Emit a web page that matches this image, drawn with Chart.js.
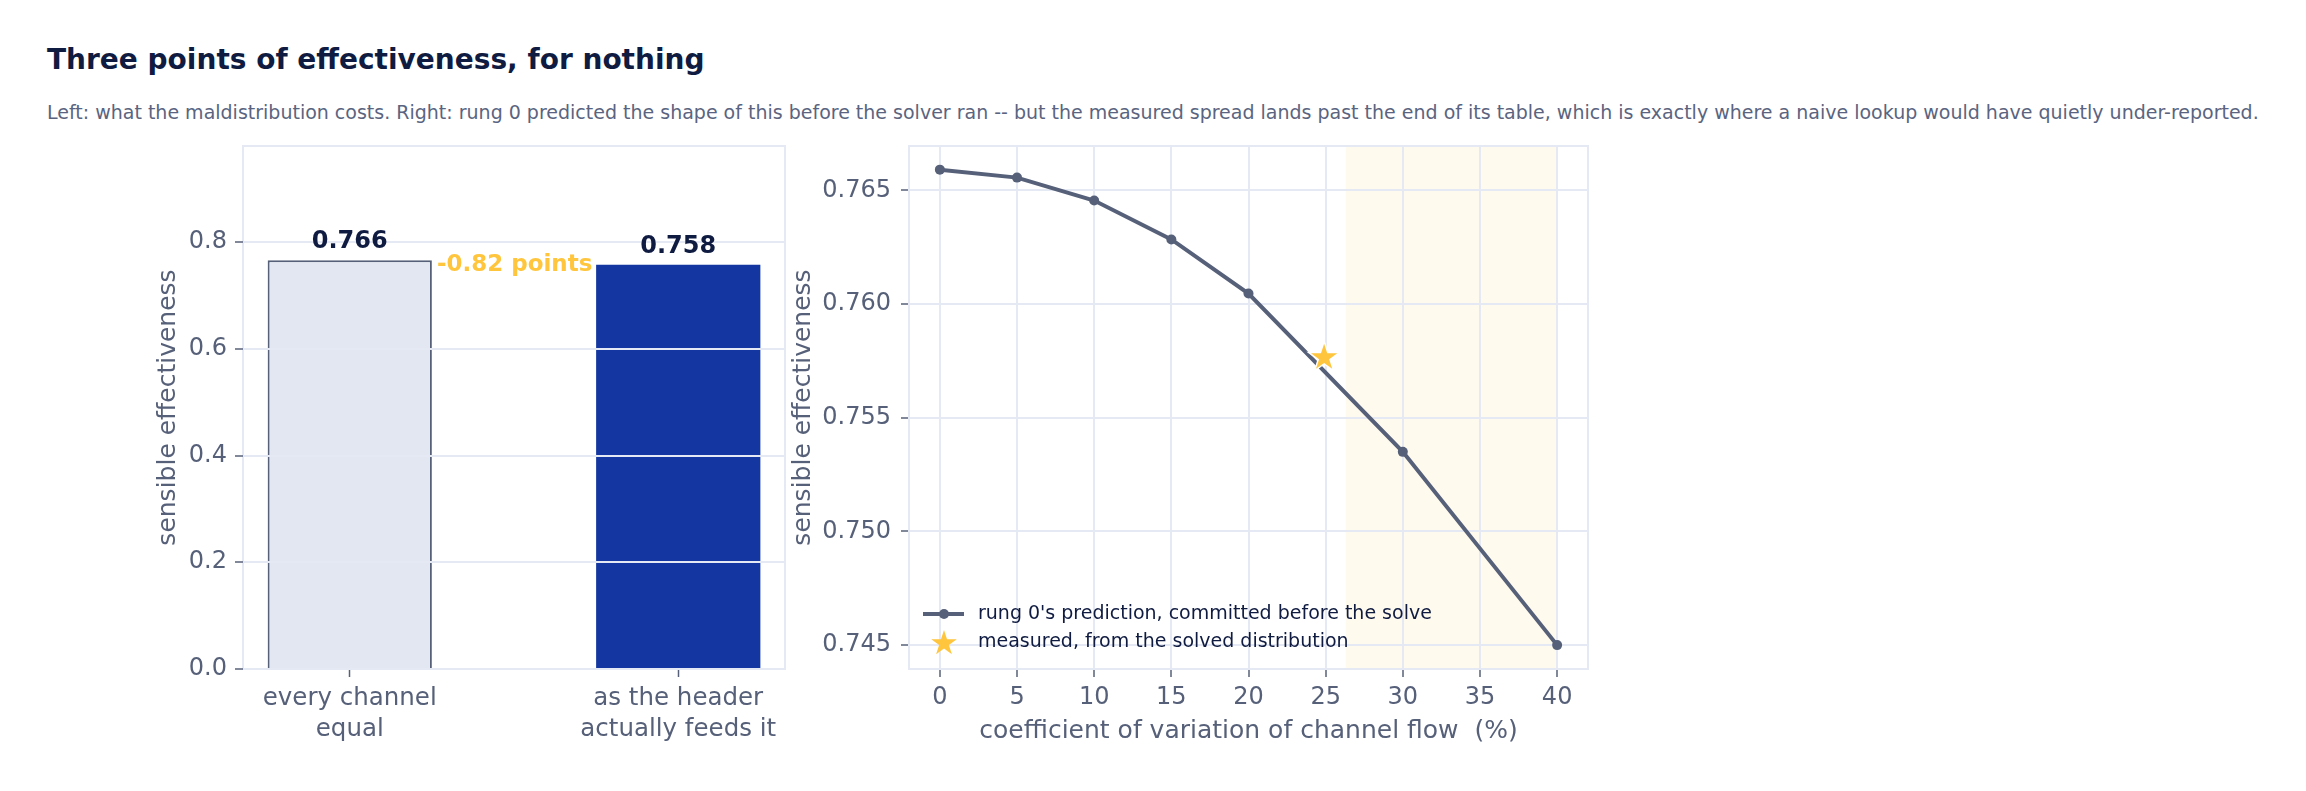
<!DOCTYPE html>
<html>
<head>
<meta charset="utf-8">
<script src="https://cdn.jsdelivr.net/npm/chart.js@4.4.1/dist/chart.umd.min.js"></script>
<style>
html,body{margin:0;padding:0;background:#ffffff;}
body{width:2306px;height:791px;position:relative;overflow:hidden;font-family:"DejaVu Sans",sans-serif;}
#title{position:absolute;left:47px;top:46px;font-size:28px;line-height:28px;font-weight:bold;color:#0f1b40;white-space:nowrap;}
#subtitle{position:absolute;left:47px;top:103px;font-size:19px;line-height:19px;color:#5a6480;white-space:nowrap;}
.cv{position:absolute;left:0;top:0;width:2306px;height:791px;}
</style>
</head>
<body>
<div id="title">Three points of effectiveness, for nothing</div>
<div id="subtitle">Left: what the maldistribution costs. Right: rung 0 predicted the shape of this before the solver ran -- but the measured spread lands past the end of its table, which is exactly where a naive lookup would have quietly under-reported.</div>
<div class="cv"><canvas id="left"></canvas></div>
<div class="cv"><canvas id="right"></canvas></div>
<script>
// ---------- data ----------
const barCategories = [['every channel', 'equal'], ['as the header', 'actually feeds it']];
const barValues = [0.7659, 0.7577];
const barYTicks = [0.0, 0.2, 0.4, 0.6, 0.8];

const cvPercent = [0, 5, 10, 15, 20, 30, 40];
const predictedEff = [0.76591, 0.76556, 0.76455, 0.76284, 0.76046, 0.75350, 0.74500];
const measuredCv = [24.9];
const measuredEff = [0.7577];
const lineXTicks = [0, 5, 10, 15, 20, 25, 30, 35, 40];
const lineYTicks = [0.745, 0.750, 0.755, 0.760, 0.765];
const tableEndBand = [26.3, 40];

const legendLabels = ["rung 0's prediction, committed before the solve", 'measured, from the solved distribution'];

// ---------- style ----------
const FONT = '"DejaVu Sans", sans-serif';
const C_TEXT = '#0f1b40';
const C_TICK = '#566079';
const C_GRID = '#e5e9f4';
const C_LINE = '#566079';
const C_GOLD = '#ffc53d';
const C_BAR0 = '#e3e7f2';
const C_BAR1 = '#1336a0';
const C_BAND = '#fffaee';

function drawStar(ctx, cx, cy, R, fill, stroke, lw) {
  const r = R * 0.381966;
  ctx.beginPath();
  for (let i = 0; i < 10; i++) {
    const rad = i % 2 === 0 ? R : r;
    const ang = -Math.PI / 2 + i * Math.PI / 5;
    const px = cx + rad * Math.cos(ang), py = cy + rad * Math.sin(ang);
    if (i === 0) ctx.moveTo(px, py); else ctx.lineTo(px, py);
  }
  ctx.closePath();
  if (stroke) { ctx.lineWidth = lw; ctx.strokeStyle = stroke; ctx.lineJoin = 'miter'; ctx.stroke(); }
  ctx.fillStyle = fill;
  ctx.fill();
}

const framePlugin = {
  id: 'frame',
  afterDatasetsDraw(chart) {
    const {ctx, chartArea: a} = chart;
    ctx.save();
    ctx.strokeStyle = C_GRID;
    ctx.lineWidth = 2;
    ctx.strokeRect(a.left, a.top, a.right - a.left, a.bottom - a.top);
    ctx.restore();
  }
};

Chart.defaults.font.family = FONT;
Chart.defaults.animation = false;
Chart.defaults.responsive = true;
Chart.defaults.maintainAspectRatio = false;
Chart.defaults.devicePixelRatio = 1;

// ---------- left: bars ----------
const barLabelPlugin = {
  id: 'barLabels',
  afterDraw(chart) {
    const {ctx} = chart;
    const meta = chart.getDatasetMeta(0);
    const ys = chart.scales.y;
    ctx.save();
    ctx.font = 'bold 24px ' + FONT;
    ctx.fillStyle = C_TEXT;
    ctx.textAlign = 'center';
    ctx.textBaseline = 'alphabetic';
    meta.data.forEach((el, i) => {
      ctx.fillText(barValues[i].toFixed(3), el.x, el.y - 12);
    });
    const diff = (barValues[1] - barValues[0]) * 100;
    const el0 = meta.data[0];
    ctx.font = 'bold 23px ' + FONT;
    ctx.fillStyle = C_GOLD;
    ctx.textAlign = 'left';
    ctx.textBaseline = 'middle';
    ctx.fillText(diff.toFixed(2) + ' points', el0.x + el0.width / 2 + 5, ys.getPixelForValue((barValues[0] + barValues[1]) / 2) + 3);
    ctx.restore();
  }
};

new Chart(document.getElementById('left'), {
  type: 'bar',
  data: {
    datasets: [{
      data: barValues.map((v, i) => ({x: i, y: v})),
      backgroundColor: [C_BAR0, C_BAR1],
      borderColor: [C_LINE, C_BAR1],
      borderWidth: [2, 0],
      borderSkipped: 'bottom',
      barPercentage: 0.5,
      categoryPercentage: 1.0
    }]
  },
  options: {
    layout: {padding: {left: 153, top: 146, right: 1521, bottom: 42}},
    plugins: {legend: {display: false}, tooltip: {enabled: false}},
    scales: {
      x: {
        type: 'linear', min: -0.325, max: 1.325, offset: false,
        afterBuildTicks: s => { s.ticks = barCategories.map((c, i) => ({value: i})); },
        afterFit: s => { s.height = 80; },
        grid: {offset: false, drawOnChartArea: false, drawTicks: true, tickLength: 8, tickColor: C_TICK, tickWidth: 1.5},
        border: {display: false},
        ticks: {
          callback: v => barCategories[v],
          color: C_TICK, font: {size: 24.5, lineHeight: 1.27}, padding: 6, maxRotation: 0, autoSkip: false
        }
      },
      y: {
        type: 'linear', min: 0, max: 0.98,
        afterBuildTicks: s => { s.ticks = barYTicks.map(v => ({value: v})); },
        afterFit: s => { s.width = 90; },
        grid: {color: C_GRID, lineWidth: 2, z: 1, tickLength: 8, tickColor: C_TICK, tickWidth: 1.5},
        border: {display: false},
        ticks: {callback: v => v.toFixed(1), color: C_TICK, font: {size: 24}, padding: 8},
        title: {display: true, text: 'sensible effectiveness', color: C_TICK, font: {size: 25, lineHeight: 1.2}, padding: {top: 0, bottom: 0}}
      }
    }
  },
  plugins: [framePlugin, barLabelPlugin]
});

// ---------- right: line ----------
const bandPlugin = {
  id: 'band',
  beforeDraw(chart) {
    const {ctx, chartArea: a, scales: {x}} = chart;
    ctx.save();
    ctx.fillStyle = C_BAND;
    const x0 = x.getPixelForValue(tableEndBand[0]), x1 = x.getPixelForValue(tableEndBand[1]);
    ctx.fillRect(x0, a.top, x1 - x0, a.bottom - a.top);
    ctx.restore();
  }
};

const starPlugin = {
  id: 'stars',
  afterDatasetsDraw(chart) {
    const {ctx} = chart;
    const meta = chart.getDatasetMeta(1);
    ctx.save();
    meta.data.forEach(el => drawStar(ctx, el.x, el.y + 1.3, 13.8, C_GOLD, '#ffffff', 3));
    ctx.restore();
  }
};

const legendPlugin = {
  id: 'insideLegend',
  afterDraw(chart) {
    const {ctx, chartArea: a} = chart;
    const y1 = a.bottom - 55, y2 = a.bottom - 27;
    const xs = a.left + 14, xe = a.left + 55, xm = a.left + 35;
    ctx.save();
    ctx.strokeStyle = C_LINE; ctx.lineWidth = 4;
    ctx.beginPath(); ctx.moveTo(xs, y1); ctx.lineTo(xe, y1); ctx.stroke();
    ctx.fillStyle = C_LINE;
    ctx.beginPath(); ctx.arc(xm, y1, 5, 0, Math.PI * 2); ctx.fill();
    drawStar(ctx, xm, y2 + 1.3, 13.4, C_GOLD, null, 0);
    ctx.font = '19px ' + FONT;
    ctx.fillStyle = C_TEXT;
    ctx.textAlign = 'left'; ctx.textBaseline = 'middle';
    ctx.fillText(legendLabels[0], a.left + 69, y1);
    ctx.fillText(legendLabels[1], a.left + 69, y2);
    ctx.restore();
  }
};

new Chart(document.getElementById('right'), {
  type: 'line',
  data: {
    datasets: [{
      label: legendLabels[0],
      data: cvPercent.map((c, i) => ({x: c, y: predictedEff[i]})),
      borderColor: C_LINE, backgroundColor: C_LINE, borderWidth: 4,
      pointRadius: 5, pointBackgroundColor: C_LINE, pointBorderWidth: 0,
      tension: 0
    }, {
      label: legendLabels[1],
      type: 'scatter',
      data: measuredCv.map((c, i) => ({x: c, y: measuredEff[i]})),
      pointRadius: 0, showLine: false
    }]
  },
  options: {
    layout: {padding: {left: 788, top: 146, right: 718, bottom: 45}},
    plugins: {legend: {display: false}, tooltip: {enabled: false}},
    scales: {
      x: {
        type: 'linear', min: -2, max: 42,
        afterBuildTicks: s => { s.ticks = lineXTicks.map(v => ({value: v})); },
        afterFit: s => { s.height = 77; },
        grid: {color: C_GRID, lineWidth: 2, tickLength: 8, tickColor: C_TICK, tickWidth: 1.5},
        border: {display: false},
        ticks: {callback: v => String(v), color: C_TICK, font: {size: 24}, padding: 6, maxRotation: 0, autoSkip: false},
        title: {display: true, text: 'coefficient of variation of channel flow  (%)', color: C_TICK, font: {size: 25, lineHeight: 1.2}, padding: {top: 0, bottom: 0}}
      },
      y: {
        type: 'linear', min: 0.74395, max: 0.76695,
        afterBuildTicks: s => { s.ticks = lineYTicks.map(v => ({value: v})); },
        afterFit: s => { s.width = 121; },
        grid: {color: C_GRID, lineWidth: 2, tickLength: 8, tickColor: C_TICK, tickWidth: 1.5},
        border: {display: false},
        ticks: {callback: v => v.toFixed(3), color: C_TICK, font: {size: 24}, padding: 10},
        title: {display: true, text: 'sensible effectiveness', color: C_TICK, font: {size: 25, lineHeight: 1.2}, padding: {top: 0, bottom: 0}}
      }
    }
  },
  plugins: [bandPlugin, framePlugin, starPlugin, legendPlugin]
});
</script>
</body>
</html>
